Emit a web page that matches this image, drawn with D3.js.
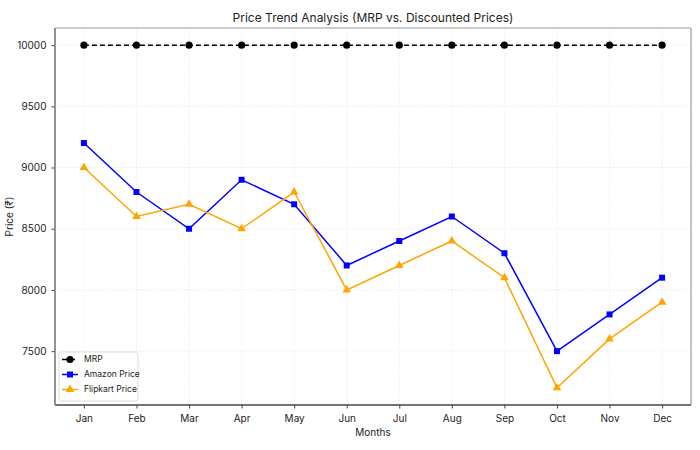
<!DOCTYPE html>
<html>
<head>
<meta charset="utf-8">
<script src="https://cdn.jsdelivr.net/npm/d3@7"></script>
<style>
  body { margin: 0; background: #fff; }
  text { font-family: Inter, "Noto Sans", sans-serif; fill: #222; }
</style>
</head>
<body>
<script>
//Chart size
var w = 700;
var h = 450;
var margin = {top: 28, right: 9, bottom: 45, left: 55};

//Data
var months = ["Jan", "Feb", "Mar", "Apr", "May", "Jun", "Jul", "Aug", "Sep", "Oct", "Nov", "Dec"];
var mrp = [10000, 10000, 10000, 10000, 10000, 10000, 10000, 10000, 10000, 10000, 10000, 10000];
var amazon = [9200, 8800, 8500, 8900, 8700, 8200, 8400, 8600, 8300, 7500, 7800, 8100];
var flipkart = [9000, 8600, 8700, 8500, 8800, 8000, 8200, 8400, 8100, 7200, 7600, 7900];
var yTicks = [7500, 8000, 8500, 9000, 9500, 10000];

var series = [
  {name: "MRP", values: mrp, color: "#000", dash: "5,3", marker: "circle"},
  {name: "Amazon Price", values: amazon, color: "#0000ff", dash: null, marker: "square"},
  {name: "Flipkart Price", values: flipkart, color: "#ffa500", dash: null, marker: "triangle"}
];

var svg = d3.select("body").append("svg")
  .attr("width", w)
  .attr("height", h);

var x0 = margin.left, x1 = w - margin.right;
var y0 = h - margin.bottom, y1 = margin.top;

//Scales (with matplotlib-style padding)
var xScale = d3.scaleLinear().domain([-0.55, 11.55]).range([x0, x1]);
var yScale = d3.scaleLinear().domain([7060, 10140]).range([y0, y1]);

//Grid
var grid = svg.append("g").attr("stroke", "#e2e2e2").attr("stroke-width", 0.6).attr("stroke-dasharray", "1.5,1.5");
grid.selectAll(".gx").data(months).enter().append("line")
  .attr("x1", function(d, i) { return xScale(i); })
  .attr("x2", function(d, i) { return xScale(i); })
  .attr("y1", y1).attr("y2", y0);
grid.selectAll(".gy").data(yTicks).enter().append("line")
  .attr("x1", x0).attr("x2", x1)
  .attr("y1", function(d) { return yScale(d); })
  .attr("y2", function(d) { return yScale(d); });

//Axes
var xAxis = d3.axisBottom(xScale)
  .tickValues(d3.range(months.length))
  .tickFormat(function(i) { return months[i]; })
  .tickSize(3.5).tickPadding(6);
var yAxis = d3.axisLeft(yScale)
  .tickValues(yTicks)
  .tickFormat(d3.format("d"))
  .tickSize(3.5).tickPadding(5);

var gx = svg.append("g").attr("transform", "translate(0," + y0 + ")").call(xAxis);
var gy = svg.append("g").attr("transform", "translate(" + x0 + ",0)").call(yAxis);
[gx, gy].forEach(function(g) {
  g.select(".domain").remove();
  g.selectAll("text").style("font-size", "10px").attr("fill", "#222");
  g.selectAll("line").attr("stroke", "#444");
});

//Frame
svg.append("line").attr("x1", x0).attr("x2", x1).attr("y1", y1).attr("y2", y1).attr("stroke", "#999").attr("stroke-width", 1.2);
svg.append("line").attr("x1", x1).attr("x2", x1).attr("y1", y1).attr("y2", y0).attr("stroke", "#999").attr("stroke-width", 1.2);
svg.append("line").attr("x1", x0).attr("x2", x1).attr("y1", y0).attr("y2", y0).attr("stroke", "#444").attr("stroke-width", 1.4);
svg.append("line").attr("x1", x0).attr("x2", x0).attr("y1", y1).attr("y2", y0).attr("stroke", "#888").attr("stroke-width", 1.8);

//Markers
var symbolType = {circle: d3.symbolCircle, square: d3.symbolSquare, triangle: d3.symbolTriangle};
var symbolSize = {circle: 40, square: 36, triangle: 32};

var line = d3.line()
  .x(function(d, i) { return xScale(i); })
  .y(function(d) { return yScale(d); });

series.forEach(function(s) {
  svg.append("path")
    .datum(s.values)
    .attr("d", line)
    .attr("fill", "none")
    .attr("stroke", s.color)
    .attr("stroke-width", 1.5)
    .attr("stroke-dasharray", s.dash);
  svg.append("g").selectAll("path").data(s.values).enter().append("path")
    .attr("d", d3.symbol().type(symbolType[s.marker]).size(symbolSize[s.marker]))
    .attr("transform", function(d, i) { return "translate(" + xScale(i) + "," + yScale(d) + ")"; })
    .attr("fill", s.color);
});

//Legend
var lg = svg.append("g").attr("transform", "translate(" + (x0 + 4) + "," + (y0 - 53) + ")");
lg.append("rect").attr("width", 79).attr("height", 49).attr("rx", 2)
  .attr("fill", "#fff").attr("fill-opacity", 0.8).attr("stroke", "#ddd");
series.forEach(function(s, i) {
  var yy = 7.5 + i * 15;
  lg.append("line").attr("x1", 3).attr("x2", 19).attr("y1", yy).attr("y2", yy)
    .attr("stroke", s.color).attr("stroke-width", 1.5).attr("stroke-dasharray", s.dash);
  lg.append("path")
    .attr("d", d3.symbol().type(symbolType[s.marker]).size(symbolSize[s.marker]))
    .attr("transform", "translate(11," + yy + ")")
    .attr("fill", s.color);
  lg.append("text").attr("x", 25).attr("y", yy).attr("dy", "0.35em")
    .style("font-size", "8.5px").text(s.name);
});

//Titles
svg.append("text").attr("x", (x0 + x1) / 2).attr("y", 22)
  .attr("text-anchor", "middle").style("font-size", "12px")
  .text("Price Trend Analysis (MRP vs. Discounted Prices)");
svg.append("text").attr("x", (x0 + x1) / 2).attr("y", 436)
  .attr("text-anchor", "middle").style("font-size", "10px").text("Months");
svg.append("text").attr("transform", "translate(13," + ((y0 + y1) / 2) + ") rotate(-90)")
  .attr("text-anchor", "middle").style("font-size", "10px").text("Price (₹)");
</script>
</body>
</html>
